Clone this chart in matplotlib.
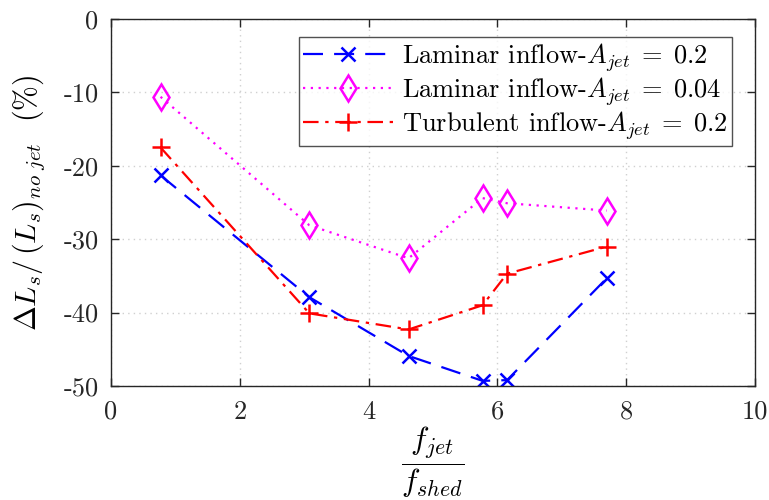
import matplotlib
matplotlib.use("Agg")
import matplotlib.pyplot as plt
from matplotlib.ticker import FixedLocator, FixedFormatter

plt.rcParams['font.family'] = 'serif'
plt.rcParams['font.serif'] = ['cmr10', 'DejaVu Serif']
plt.rcParams['mathtext.fontset'] = 'cm'
plt.rcParams['axes.formatter.use_mathtext'] = True

# data
freq_ratio = [0.77, 3.08, 4.62, 5.77, 6.15, 7.70]
laminar_02 = [-21.3, -37.9, -45.9, -49.3, -49.2, -35.3]
laminar_004 = [-10.6, -28.1, -32.6, -24.4, -25.1, -26.1]
turbulent_02 = [-17.5, -40.1, -42.3, -39.0, -34.7, -31.0]
labels = [r'Laminar inflow-$A_{jet}\;=\;0.2$',
          r'Laminar inflow-$A_{jet}\;=\;0.04$',
          r'Turbulent inflow-$A_{jet}\;=\;0.2$']
xticks = [0, 2, 4, 6, 8, 10]
yticks = [0, -10, -20, -30, -40, -50]

fig = plt.figure(figsize=(7.69, 5.0), dpi=100)
ax = fig.add_axes([0.1443, 0.228, 0.9818 - 0.1443, 0.962 - 0.228])

ax.plot(freq_ratio, laminar_02, color='#0000ff', lw=1.6, dashes=(9, 5),
        marker='x', ms=10, mew=1.8, label=labels[0])
ax.plot(freq_ratio, laminar_004, color='#ff00ff', lw=1.6, linestyle=(0, (1, 2.5)),
        marker='d', ms=13.5, mew=1.8, mfc='none', label=labels[1])
ax.plot(freq_ratio, turbulent_02, color='#ff0000', lw=1.6, linestyle=(0, (7, 3, 1.5, 3)),
        marker='+', ms=13, mew=1.8, label=labels[2])

ax.set_xlim(0, 10)
ax.set_ylim(-50, 0)
ax.xaxis.set_major_locator(FixedLocator(xticks))
ax.xaxis.set_major_formatter(FixedFormatter([str(v) for v in xticks]))
ax.yaxis.set_major_locator(FixedLocator(yticks))
ax.yaxis.set_major_formatter(FixedFormatter([str(v) for v in yticks]))
ax.tick_params(direction='in', length=6, width=1, labelsize=19, pad=10,
               top=True, right=True, colors='#262626')
ax.tick_params(axis='y', pad=9)
ax.grid(True, linestyle=(0, (1, 3)), color='#d0d0d0', lw=1)
for s in ax.spines.values():
    s.set_color('#262626')
    s.set_linewidth(1)

ax.set_xlabel(r'$\dfrac{f_{jet}}{f_{shed}}$', fontsize=22.5, labelpad=1)
ax.set_ylabel(r'$\Delta L_s/\,(L_s)_{no\ jet}$  (%)', fontsize=21.5, labelpad=12)

leg = ax.legend(loc='upper right', bbox_to_anchor=(0.964, 0.951), fontsize=19,
                frameon=True, fancybox=False, edgecolor='#262626',
                handlelength=3.4, handletextpad=0.35, borderpad=0.15,
                labelspacing=0.04, borderaxespad=0)
leg.get_frame().set_linewidth(1)

fig.savefig('out.png', dpi=100)
